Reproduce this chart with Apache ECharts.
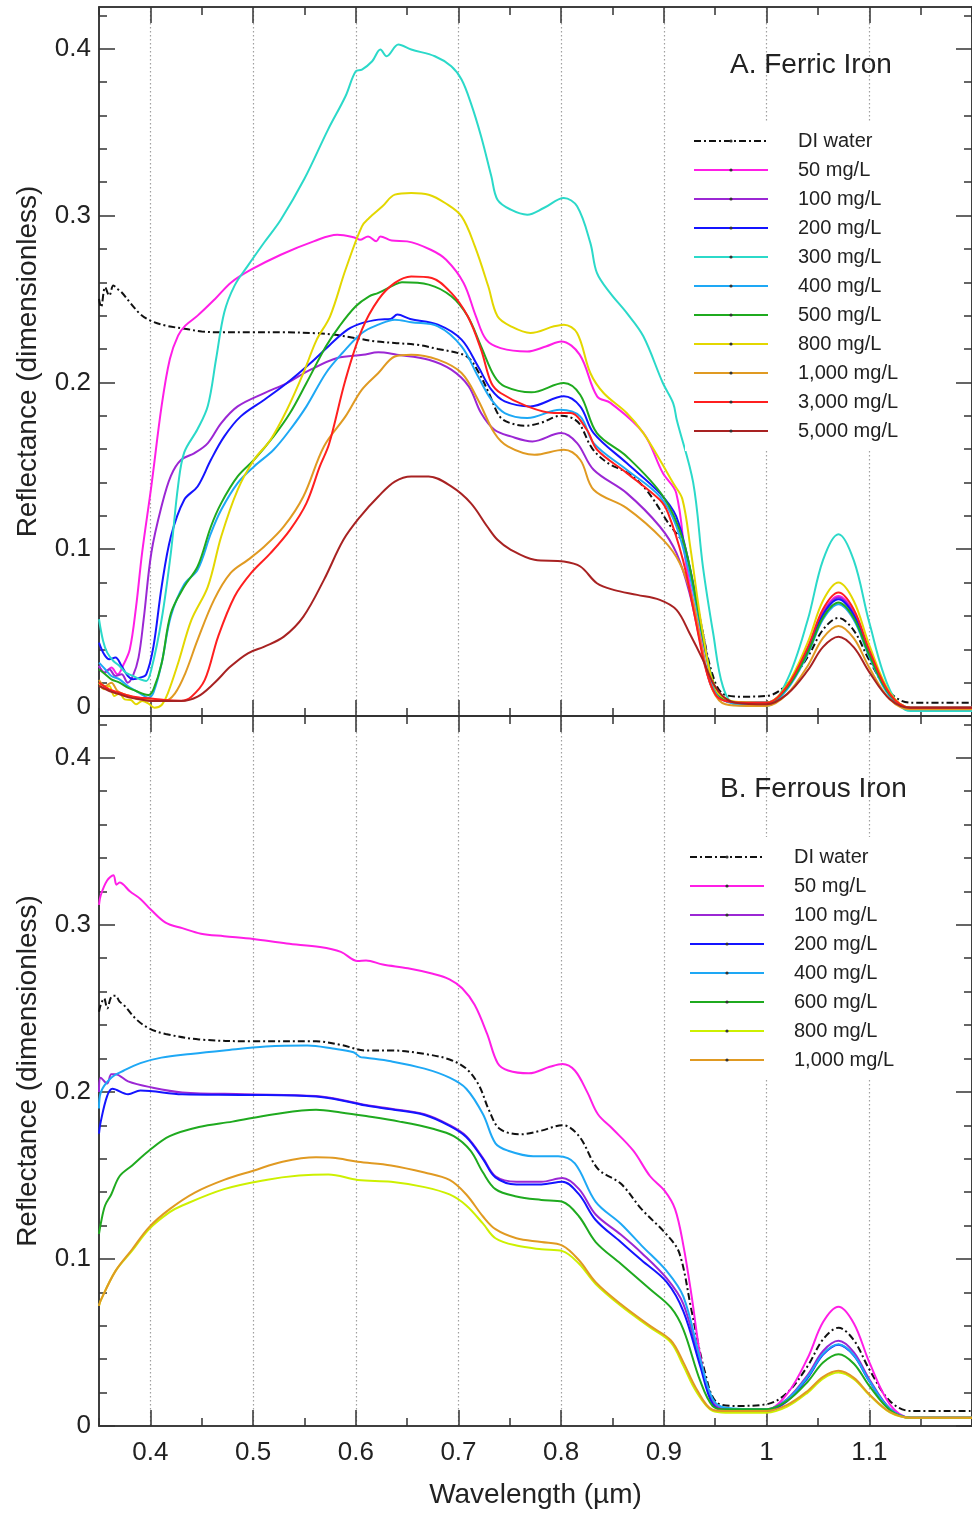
<!DOCTYPE html>
<html>
<head>
<meta charset="utf-8">
<title>Reflectance spectra of iron solutions</title>
<script src="https://cdn.jsdelivr.net/npm/echarts@6/dist/echarts.min.js"></script>
<style>
  html, body { margin: 0; padding: 0; background: #fff; }
  #chart { width: 972px; height: 1513px; }
</style>
</head>
<body>
<div id="chart"></div>
<script>
// ---- axis ticks and labels -------------------------------------------------
const wlMajorTicks = [0.4, 0.5, 0.6, 0.7, 0.8, 0.9, 1.0, 1.1, 1.2];
const wlMinorTicks = [0.35, 0.45, 0.55, 0.65, 0.75, 0.85, 0.95, 1.05, 1.15];
const wlLabels = [0.4, 0.5, 0.6, 0.7, 0.8, 0.9, 1.0, 1.1];
const reflMajorTicks = [0, 0.1, 0.2, 0.3, 0.4];
const reflMinorTicks = [0.02, 0.04, 0.06, 0.08, 0.12, 0.14, 0.16, 0.18, 0.22, 0.24,
  0.26, 0.28, 0.32, 0.34, 0.36, 0.38, 0.42];

const ferricNames = ['DI water', '50 mg/L', '100 mg/L', '200 mg/L', '300 mg/L', '400 mg/L',
  '500 mg/L', '800 mg/L', '1,000 mg/L', '3,000 mg/L', '5,000 mg/L'];
const ferrousNames = ['DI water', '50 mg/L', '100 mg/L', '200 mg/L', '400 mg/L',
  '600 mg/L', '800 mg/L', '1,000 mg/L'];

// ---- A. Ferric iron: [wavelength (µm), reflectance] ------------------------
const ferricDI = [[0.350,0.250],[0.352,0.245],[0.356,0.257],[0.360,0.252],[0.364,0.258],[0.368,0.256],
  [0.372,0.254],[0.380,0.248],[0.390,0.241],[0.400,0.237],[0.415,0.234],[0.435,0.232],[0.450,0.2305],
  [0.470,0.230],[0.500,0.230],[0.530,0.230],[0.560,0.2295],[0.580,0.2285],[0.600,0.2265],[0.620,0.2245],
  [0.640,0.2235],[0.660,0.2225],[0.680,0.2200],[0.700,0.2175],[0.710,0.2146],[0.720,0.2056],[0.730,0.193],
  [0.740,0.1796],[0.750,0.1757],[0.765,0.174],[0.780,0.1757],[0.800,0.1800],[0.810,0.1788],[0.818,0.175],
  [0.830,0.1606],[0.845,0.1518],[0.865,0.1456],[0.880,0.1376],[0.890,0.1296],[0.905,0.115],[0.9185,0.1036],
  [0.928,0.0796],[0.938,0.0496],[0.947,0.0256],[0.957,0.0136],[0.976,0.0116],[1.000,0.012],[1.020,0.019],
  [1.040,0.0354],[1.055,0.0518],[1.070,0.0588],[1.085,0.0512],[1.100,0.0334],[1.120,0.0141],[1.140,0.008],
  [1.200,0.008]];
const ferric50 = [[0.350,0.030],[0.356,0.026],[0.362,0.029],[0.368,0.025],[0.374,0.031],[0.380,0.040],
  [0.386,0.065],[0.392,0.098],[0.401,0.138],[0.411,0.186],[0.419,0.214],[0.427,0.228],[0.434,0.234],
  [0.446,0.240],[0.463,0.250],[0.479,0.260],[0.498,0.2675],[0.527,0.2765],[0.559,0.2845],[0.582,0.2885],
  [0.598,0.287],[0.604,0.2855],[0.612,0.2875],[0.620,0.2846],[0.624,0.2875],[0.635,0.285],[0.650,0.2845],
  [0.673,0.2795],[0.688,0.2735],[0.705,0.2596],[0.717,0.2396],[0.727,0.2256],[0.741,0.2205],[0.767,0.2185],
  [0.785,0.2215],[0.800,0.2245],[0.818,0.2166],[0.835,0.1916],[0.848,0.1877],[0.880,0.1697],[0.899,0.1456],
  [0.912,0.1337],[0.922,0.0896],[0.935,0.0496],[0.945,0.0196],[0.955,0.0106],[0.970,0.008],[1.000,0.008],
  [1.020,0.0176],[1.040,0.040],[1.055,0.0624],[1.070,0.072],[1.085,0.062],[1.100,0.0385],[1.120,0.013],
  [1.140,0.005],[1.200,0.005]];
const ferric100 = [[0.350,0.030],[0.355,0.026],[0.360,0.028],[0.366,0.024],[0.372,0.025],[0.378,0.020],
  [0.383,0.024],[0.3885,0.035],[0.3935,0.058],[0.401,0.098],[0.411,0.126],[0.420,0.144],[0.430,0.1536],
  [0.443,0.1576],[0.456,0.1636],[0.469,0.1756],[0.485,0.1856],[0.511,0.1936],[0.533,0.1996],[0.556,0.2076],
  [0.582,0.2146],[0.607,0.2165],[0.622,0.218],[0.640,0.2166],[0.671,0.2136],[0.693,0.2076],[0.710,0.1976],
  [0.722,0.1816],[0.735,0.1716],[0.751,0.1676],[0.772,0.1646],[0.800,0.1696],[0.8155,0.1636],[0.8316,0.1476],
  [0.8638,0.1336],[0.896,0.1136],[0.9123,0.0976],[0.925,0.0736],[0.935,0.0456],[0.945,0.0196],[0.955,0.0106],
  [0.970,0.008],[1.000,0.008],[1.020,0.0175],[1.040,0.0395],[1.055,0.0616],[1.070,0.071],[1.085,0.0611],
  [1.100,0.038],[1.120,0.0129],[1.140,0.005],[1.200,0.005]];
const ferric200 = [[0.350,0.044],[0.355,0.037],[0.360,0.034],[0.366,0.035],[0.372,0.030],[0.378,0.024],
  [0.383,0.022],[0.390,0.023],[0.396,0.025],[0.403,0.0416],[0.411,0.0776],[0.420,0.1076],[0.433,0.1296],
  [0.446,0.1376],[0.459,0.1536],[0.472,0.1676],[0.488,0.1796],[0.511,0.1896],[0.533,0.1996],[0.556,0.2116],
  [0.575,0.2226],[0.592,0.2316],[0.606,0.2355],[0.622,0.2376],[0.634,0.2380],[0.6405,0.2406],[0.653,0.238],
  [0.680,0.2346],[0.703,0.2256],[0.719,0.2096],[0.732,0.1956],[0.745,0.1886],[0.770,0.1856],[0.8026,0.1916],
  [0.8185,0.1856],[0.8316,0.1696],[0.8638,0.1516],[0.896,0.1336],[0.912,0.1196],[0.925,0.0896],[0.938,0.0496],
  [0.949,0.0176],[0.960,0.010],[0.980,0.008],[1.000,0.008],[1.020,0.0173],[1.040,0.039],[1.055,0.0607],
  [1.070,0.070],[1.085,0.0603],[1.100,0.0375],[1.120,0.0128],[1.140,0.005],[1.200,0.005]];
const ferric300 = [[0.350,0.058],[0.354,0.045],[0.358,0.038],[0.364,0.033],[0.370,0.030],[0.376,0.026],
  [0.383,0.024],[0.390,0.022],[0.396,0.021],[0.401,0.028],[0.411,0.058],[0.420,0.098],[0.427,0.138],
  [0.433,0.158],[0.446,0.172],[0.456,0.186],[0.464,0.214],[0.472,0.242],[0.482,0.258],[0.495,0.270],
  [0.511,0.284],[0.527,0.2975],[0.550,0.322],[0.573,0.3515],[0.590,0.3715],[0.600,0.3865],[0.606,0.3875],
  [0.616,0.3925],[0.624,0.3995],[0.630,0.3955],[0.6415,0.4025],[0.654,0.3995],[0.677,0.3955],[0.693,0.3895],
  [0.703,0.3815],[0.712,0.3675],[0.722,0.3475],[0.732,0.3235],[0.738,0.3095],[0.751,0.3035],[0.767,0.3005],
  [0.783,0.3045],[0.8026,0.3105],[0.8155,0.3055],[0.8284,0.2836],[0.8348,0.2656],[0.8476,0.2536],
  [0.8638,0.2416],[0.880,0.2276],[0.899,0.1996],[0.909,0.1876],[0.9125,0.1776],[0.9285,0.140],[0.938,0.0896],
  [0.948,0.0496],[0.9575,0.0176],[0.970,0.0066],[1.000,0.006],[1.020,0.0215],[1.040,0.0575],[1.055,0.0936],
  [1.070,0.109],[1.085,0.0931],[1.100,0.056],[1.120,0.0157],[1.140,0.003],[1.200,0.003]];
const ferric400 = [[0.350,0.032],[0.356,0.028],[0.362,0.024],[0.370,0.022],[0.378,0.018],[0.386,0.015],
  [0.394,0.012],[0.398,0.011],[0.403,0.014],[0.411,0.0316],[0.420,0.060],[0.433,0.079],[0.446,0.0876],
  [0.459,0.1096],[0.469,0.1236],[0.485,0.1396],[0.501,0.1496],[0.520,0.1596],[0.536,0.1716],[0.552,0.1856],
  [0.571,0.2056],[0.587,0.2176],[0.606,0.2296],[0.622,0.2346],[0.638,0.2376],[0.654,0.236],[0.680,0.2336],
  [0.703,0.2216],[0.719,0.2036],[0.732,0.1896],[0.745,0.1816],[0.767,0.1786],[0.799,0.1836],[0.8185,0.1796],
  [0.8316,0.1636],[0.8638,0.1476],[0.896,0.1316],[0.912,0.114],[0.925,0.085],[0.938,0.046],[0.949,0.016],
  [0.960,0.009],[0.980,0.007],[1.000,0.007],[1.020,0.016],[1.040,0.037],[1.055,0.058],[1.070,0.067],
  [1.085,0.0576],[1.100,0.0355],[1.120,0.0116],[1.140,0.004],[1.200,0.004]];
const ferric500 = [[0.350,0.028],[0.356,0.025],[0.362,0.022],[0.370,0.020],[0.378,0.017],[0.386,0.015],
  [0.394,0.013],[0.398,0.0126],[0.403,0.016],[0.411,0.0316],[0.420,0.0616],[0.433,0.0776],[0.446,0.0896],
  [0.459,0.1136],[0.469,0.1276],[0.485,0.1436],[0.501,0.1536],[0.520,0.1676],[0.536,0.1816],[0.552,0.1996],
  [0.571,0.2216],[0.584,0.2336],[0.600,0.2456],[0.613,0.2516],[0.622,0.2536],[0.638,0.2586],[0.645,0.260],
  [0.671,0.2586],[0.693,0.2516],[0.709,0.2396],[0.722,0.2216],[0.735,0.2036],[0.745,0.1976],[0.771,0.194],
  [0.8026,0.1996],[0.8185,0.1926],[0.8348,0.1696],[0.8638,0.1556],[0.8993,0.1316],[0.9186,0.1056],
  [0.9314,0.0696],[0.941,0.0376],[0.951,0.0156],[0.962,0.009],[0.980,0.008],[1.000,0.008],[1.020,0.017],
  [1.040,0.038],[1.055,0.059],[1.070,0.068],[1.085,0.0586],[1.100,0.0365],[1.120,0.0126],[1.140,0.005],
  [1.200,0.005]];
const ferric800 = [[0.350,0.020],[0.355,0.016],[0.360,0.018],[0.365,0.012],[0.370,0.0136],[0.375,0.010],
  [0.381,0.0096],[0.386,0.007],[0.392,0.009],[0.398,0.0076],[0.404,0.005],[0.411,0.0066],[0.417,0.0136],
  [0.427,0.0316],[0.440,0.0576],[0.456,0.0776],[0.469,0.1076],[0.485,0.1356],[0.501,0.1536],[0.517,0.1656],
  [0.533,0.1836],[0.549,0.2056],[0.562,0.2256],[0.575,0.2396],[0.590,0.2675],[0.606,0.2935],[0.613,0.2985],
  [0.626,0.3055],[0.638,0.3125],[0.654,0.3135],[0.671,0.3125],[0.687,0.3075],[0.703,0.2995],[0.716,0.2815],
  [0.729,0.2576],[0.738,0.2396],[0.751,0.2336],[0.770,0.2296],[0.793,0.2336],[0.8026,0.2346],[0.8155,0.2296],
  [0.8284,0.2056],[0.8413,0.1936],[0.8638,0.1816],[0.880,0.1696],[0.896,0.1536],[0.909,0.1396],[0.918,0.130],
  [0.926,0.100],[0.938,0.0496],[0.951,0.0156],[0.970,0.0086],[1.000,0.008],[1.020,0.0188],[1.040,0.044],
  [1.055,0.0692],[1.070,0.080],[1.085,0.0688],[1.100,0.0425],[1.120,0.014],[1.140,0.005],[1.200,0.005]];
const ferric1000 = [[0.350,0.0216],[0.356,0.018],[0.362,0.020],[0.368,0.015],[0.375,0.013],[0.382,0.0116],
  [0.388,0.010],[0.398,0.0096],[0.414,0.009],[0.424,0.0136],[0.434,0.0256],[0.446,0.0456],[0.462,0.0696],
  [0.478,0.0856],[0.495,0.0936],[0.511,0.1016],[0.530,0.1136],[0.549,0.1316],[0.569,0.1616],[0.590,0.1796],
  [0.606,0.1956],[0.622,0.2056],[0.638,0.2155],[0.654,0.2166],[0.680,0.2136],[0.703,0.2056],[0.719,0.1896],
  [0.735,0.1696],[0.748,0.1616],[0.774,0.1566],[0.8026,0.1596],[0.8185,0.1536],[0.8316,0.1356],[0.8638,0.1246],
  [0.8993,0.1056],[0.9155,0.0916],[0.928,0.0696],[0.938,0.0376],[0.9475,0.0156],[0.960,0.007],[0.980,0.006],
  [1.000,0.006],[1.020,0.0132],[1.040,0.030],[1.055,0.0468],[1.070,0.054],[1.085,0.0465],[1.100,0.029],
  [1.120,0.010],[1.140,0.004],[1.200,0.004]];
const ferric3000 = [[0.350,0.020],[0.360,0.016],[0.370,0.014],[0.380,0.012],[0.390,0.011],[0.398,0.0106],
  [0.414,0.0096],[0.430,0.0092],[0.440,0.0116],[0.453,0.0216],[0.466,0.0476],[0.482,0.0716],[0.498,0.0856],
  [0.517,0.0976],[0.536,0.1116],[0.552,0.1276],[0.565,0.1496],[0.574,0.163],[0.590,0.2016],[0.606,0.2316],
  [0.622,0.2496],[0.638,0.2596],[0.654,0.2635],[0.674,0.2626],[0.693,0.2536],[0.709,0.2396],[0.722,0.2196],
  [0.732,0.1996],[0.741,0.1936],[0.767,0.1856],[0.793,0.1816],[0.809,0.1816],[0.825,0.1716],[0.835,0.1596],
  [0.864,0.1456],[0.896,0.1296],[0.904,0.1217],[0.9185,0.0936],[0.930,0.060],[0.940,0.030],[0.950,0.013],
  [0.960,0.009],[0.980,0.008],[1.000,0.008],[1.020,0.0179],[1.040,0.041],[1.055,0.0641],[1.070,0.074],
  [1.085,0.0637],[1.100,0.0395],[1.120,0.0133],[1.140,0.005],[1.200,0.005]];
const ferric5000 = [[0.350,0.018],[0.360,0.015],[0.370,0.013],[0.380,0.011],[0.390,0.010],[0.400,0.009],
  [0.430,0.009],[0.446,0.0116],[0.462,0.0196],[0.478,0.0296],[0.495,0.0376],[0.511,0.0416],[0.530,0.0476],
  [0.549,0.0596],[0.569,0.0816],[0.588,0.1056],[0.605,0.120],[0.622,0.1316],[0.638,0.1405],[0.654,0.1436],
  [0.671,0.1436],[0.693,0.1376],[0.712,0.1276],[0.728,0.1136],[0.738,0.1056],[0.751,0.0996],[0.774,0.0936],
  [0.8026,0.0926],[0.8187,0.0896],[0.8348,0.0796],[0.851,0.0756],[0.874,0.0726],[0.896,0.0696],[0.9123,0.0636],
  [0.925,0.0496],[0.938,0.0336],[0.948,0.0196],[0.958,0.0116],[0.970,0.008],[1.000,0.007],[1.020,0.0131],
  [1.040,0.0273],[1.055,0.0414],[1.070,0.0475],[1.085,0.0411],[1.100,0.0263],[1.120,0.0101],[1.140,0.005],
  [1.200,0.005]];

// ---- B. Ferrous iron: [wavelength (µm), reflectance] -----------------------
const ferrousDI = [[0.350,0.248],[0.3517,0.2521],[0.355,0.256],[0.358,0.250],[0.362,0.257],[0.366,0.2576],
  [0.370,0.254],[0.3742,0.252],[0.3864,0.2434],[0.3986,0.238],[0.4148,0.2347],[0.4473,0.2314],[0.5002,0.2303],
  [0.5613,0.2303],[0.5855,0.2281],[0.610,0.2248],[0.6344,0.2248],[0.667,0.2227],[0.6913,0.2194],[0.7076,0.2139],
  [0.7198,0.2041],[0.7299,0.1888],[0.7401,0.1779],[0.7604,0.1746],[0.7807,0.1768],[0.8012,0.1801],
  [0.8174,0.1735],[0.8358,0.1539],[0.858,0.1451],[0.8783,0.1298],[0.9028,0.1145],[0.915,0.1036],
  [0.9271,0.0686],[0.9394,0.0337],[0.9516,0.014],[0.970,0.012],[1.000,0.013],[1.020,0.0199],[1.040,0.0359],
  [1.055,0.0519],[1.070,0.0588],[1.085,0.0513],[1.100,0.0339],[1.120,0.015],[1.140,0.009],[1.200,0.009]];
const ferrous50 = [[0.350,0.312],[0.3517,0.3177],[0.3579,0.3265],[0.364,0.3297],[0.367,0.324],[0.370,0.3253],
  [0.3803,0.3199],[0.3903,0.3155],[0.4006,0.309],[0.4148,0.3013],[0.4311,0.298],[0.4493,0.2947],[0.4718,0.2932],
  [0.5002,0.2915],[0.5327,0.2888],[0.5652,0.2867],[0.5855,0.2838],[0.6019,0.2783],[0.610,0.2787],[0.6263,0.2762],
  [0.6507,0.274],[0.6751,0.2707],[0.6913,0.2674],[0.7036,0.262],[0.7157,0.2521],[0.7279,0.2347],[0.7382,0.2172],
  [0.7483,0.2128],[0.7686,0.2111],[0.7889,0.215],[0.8012,0.2167],[0.8133,0.2128],[0.8255,0.1997],[0.8358,0.1866],
  [0.850,0.1779],[0.8702,0.1648],[0.8866,0.1495],[0.9008,0.1407],[0.9109,0.1298],[0.919,0.108],[0.9271,0.0774],
  [0.9353,0.0424],[0.9435,0.0206],[0.9516,0.0119],[0.970,0.010],[1.000,0.010],[1.020,0.0192],[1.040,0.0407],
  [1.055,0.0622],[1.070,0.0714],[1.085,0.0614],[1.100,0.0382],[1.120,0.013],[1.140,0.005],[1.200,0.005]];
const ferrous100 = [[0.350,0.200],[0.3517,0.2085],[0.3579,0.205],[0.362,0.2106],[0.366,0.2106],[0.3783,0.2063],
  [0.3986,0.203],[0.4311,0.1997],[0.4921,0.1986],[0.5613,0.1975],[0.5937,0.1943],[0.610,0.1921],[0.6344,0.1899],
  [0.667,0.1866],[0.6913,0.1801],[0.7076,0.1735],[0.7239,0.1604],[0.736,0.1495],[0.7564,0.1462],[0.7807,0.1462],
  [0.8012,0.1484],[0.8174,0.1418],[0.8336,0.1266],[0.858,0.1146],[0.8783,0.1036],[0.9028,0.0883],[0.919,0.073],
  [0.9353,0.0381],[0.9475,0.014],[0.960,0.010],[1.000,0.010],[1.020,0.0162],[1.040,0.0305],[1.055,0.0449],
  [1.070,0.051],[1.085,0.0441],[1.100,0.028],[1.120,0.0105],[1.140,0.005],[1.200,0.005]];
const ferrous200 = [[0.350,0.175],[0.3517,0.1822],[0.3579,0.1975],[0.363,0.2019],[0.3783,0.1986],
  [0.3903,0.2008],[0.4311,0.1986],[0.4921,0.1982],[0.5613,0.1972],[0.5937,0.194],[0.610,0.1918],[0.6344,0.1896],
  [0.667,0.1862],[0.6913,0.1797],[0.7076,0.173],[0.7239,0.1598],[0.736,0.1488],[0.7564,0.1446],[0.7807,0.1446],
  [0.8012,0.1462],[0.8174,0.1386],[0.8336,0.1233],[0.858,0.1101],[0.8783,0.0992],[0.9028,0.0861],[0.919,0.0686],
  [0.9353,0.036],[0.9475,0.013],[0.960,0.009],[1.000,0.009],[1.020,0.0149],[1.040,0.0288],[1.055,0.0427],
  [1.070,0.0486],[1.085,0.0421],[1.100,0.0268],[1.120,0.0102],[1.140,0.005],[1.200,0.005]];
const ferrous400 = [[0.350,0.190],[0.3517,0.1997],[0.3619,0.2085],[0.3742,0.2128],[0.3903,0.2172],
  [0.4107,0.2205],[0.4392,0.2227],[0.4718,0.2248],[0.5125,0.2271],[0.553,0.2277],[0.5775,0.2259],
  [0.5978,0.2237],[0.604,0.221],[0.610,0.2205],[0.6344,0.2183],[0.667,0.2139],[0.6913,0.2085],[0.7076,0.2019],
  [0.7239,0.1866],[0.736,0.1692],[0.7483,0.1648],[0.7727,0.1615],[0.7971,0.1615],[0.8133,0.1572],[0.8336,0.1342],
  [0.858,0.1211],[0.8783,0.108],[0.9028,0.0927],[0.919,0.0774],[0.9353,0.0403],[0.9475,0.0162],[0.960,0.011],
  [1.000,0.010],[1.020,0.0159],[1.040,0.0295],[1.055,0.0432],[1.070,0.049],[1.085,0.0424],[1.100,0.027],
  [1.120,0.0103],[1.140,0.005],[1.200,0.005]];
const ferrous600 = [[0.350,0.115],[0.3517,0.1211],[0.3559,0.132],[0.3619,0.1386],[0.370,0.1495],[0.3823,0.156],
  [0.3986,0.1648],[0.4188,0.1735],[0.4473,0.179],[0.4799,0.1822],[0.5206,0.1866],[0.5613,0.1893],[0.5855,0.1877],
  [0.610,0.1855],[0.6425,0.1822],[0.6751,0.1779],[0.6954,0.1735],[0.7117,0.1648],[0.7239,0.1517],[0.736,0.1418],
  [0.7564,0.1374],[0.7807,0.1353],[0.8012,0.1342],[0.8174,0.1254],[0.8336,0.1101],[0.858,0.0971],[0.8866,0.0818],
  [0.9069,0.0708],[0.919,0.0577],[0.9353,0.0271],[0.9475,0.0119],[0.960,0.010],[1.000,0.010],[1.020,0.015],
  [1.040,0.0265],[1.055,0.038],[1.070,0.043],[1.085,0.0373],[1.100,0.024],[1.120,0.0096],[1.140,0.005],
  [1.200,0.005]];
const ferrous800 = [[0.350,0.072],[0.3517,0.0752],[0.366,0.0927],[0.3823,0.105],[0.3986,0.1178],[0.4188,0.128],
  [0.4311,0.132],[0.4718,0.1418],[0.5125,0.1473],[0.5449,0.1499],[0.5734,0.1506],[0.6019,0.1473],[0.6344,0.1462],
  [0.667,0.143],[0.6913,0.1386],[0.7076,0.132],[0.7239,0.1211],[0.736,0.1124],[0.7564,0.108],[0.7807,0.1058],
  [0.8012,0.1047],[0.8174,0.0971],[0.8336,0.085],[0.858,0.072],[0.8866,0.059],[0.9069,0.050],[0.919,0.036],
  [0.9312,0.021],[0.9475,0.009],[0.960,0.008],[1.000,0.008],[1.020,0.0116],[1.040,0.020],[1.055,0.0284],
  [1.070,0.032],[1.085,0.028],[1.100,0.0185],[1.120,0.0082],[1.140,0.005],[1.200,0.005]];
const ferrous1000 = [[0.350,0.072],[0.3517,0.0752],[0.366,0.0927],[0.3823,0.1058],[0.3986,0.1189],
  [0.4188,0.1298],[0.4433,0.1397],[0.4718,0.1473],[0.5002,0.1528],[0.5287,0.1582],[0.5613,0.1608],
  [0.5775,0.1605],[0.6019,0.1582],[0.6344,0.156],[0.667,0.1517],[0.6913,0.1473],[0.7076,0.1386],[0.7239,0.1254],
  [0.736,0.1178],[0.7564,0.1124],[0.7807,0.1101],[0.8012,0.108],[0.8174,0.0992],[0.8336,0.0861],[0.858,0.073],
  [0.8866,0.0599],[0.9069,0.0512],[0.919,0.0381],[0.9312,0.0228],[0.9475,0.0097],[0.960,0.009],[1.000,0.009],
  [1.020,0.0126],[1.040,0.021],[1.055,0.0294],[1.070,0.033],[1.085,0.0288],[1.100,0.019],[1.120,0.0084],
  [1.140,0.005],[1.200,0.005]];

// ---- styling ---------------------------------------------------------------
const FONT = "'Liberation Sans', Arial, Helvetica, sans-serif";
const INK = '#222';
const AXIS = '#333';
const DASH_DOT = [7, 3, 2, 3];
const colors = {
  di: '#111111', c50: '#ff1ee6', c100: '#9b27d4', c200: '#1414ff', c300: '#2bd9c9',
  c400: '#1ea8f5', c500: '#1faa1f', c600: '#1faa1f', c800a: '#e3d700', c800b: '#cdf000',
  c1000: '#e09a22', c3000: '#ff1f1f', c5000: '#a82222'
};

function series(name, data, color, panel, dashed) {
  return {
    type: 'line', name: name, data: data,
    xAxisIndex: panel * 4, yAxisIndex: panel * 4,
    symbol: 'circle', showSymbol: false, smooth: 0.35,
    lineStyle: { color: color, width: 2, type: dashed ? DASH_DOT : 'solid' },
    itemStyle: { color: color },
    silent: true
  };
}

// x axes: for each panel a bottom and a top axis, each split into major/minor tick sets
function xAxis(panel, pos, ticks, len, extra) {
  return Object.assign({
    type: 'value', gridIndex: panel, position: pos, min: 0.35, max: 1.2,
    axisLine: { show: true, onZero: false, lineStyle: { color: AXIS, width: 1.5 } },
    axisTick: { show: true, inside: true, length: len, customValues: ticks,
      lineStyle: { color: AXIS, width: 1.5 } },
    axisLabel: { show: false },
    splitLine: { show: false }
  }, extra || {});
}
function yAxis(panel, pos, ticks, len, extra) {
  return Object.assign({
    type: 'value', gridIndex: panel, position: pos, min: 0, max: 0.425,
    axisLine: { show: true, onZero: false, lineStyle: { color: AXIS, width: 1.5 } },
    axisTick: { show: true, inside: true, length: len, customValues: ticks,
      lineStyle: { color: AXIS, width: 1.5 } },
    axisLabel: { show: false },
    splitLine: { show: false }
  }, extra || {});
}

// dotted verticals at every tenth of a micron
const gridLines = {
  show: true,
  lineStyle: { color: '#a0a0a0', type: [1.5, 2.5], width: 1.2 }
};
const yName = {
  name: 'Reflectance (dimensionless)', nameLocation: 'middle', nameGap: 57,
  nameTextStyle: { fontFamily: FONT, fontSize: 28, color: INK }
};
function yLabels(shiftZero) {
  return {
    show: true, customValues: reflMajorTicks, margin: 8,
    fontFamily: FONT, fontSize: 26, color: INK,
    formatter: v => (shiftZero && v === 0) ? '{z|0}' : String(v),
    rich: { z: { fontFamily: FONT, fontSize: 26, color: INK, padding: [0, 0, 18, 0] } }
  };
}

const xAxes = [];
const yAxes = [];
for (let p = 0; p < 2; p++) {
  xAxes.push(xAxis(p, 'bottom', wlMajorTicks, 16, Object.assign(
    { interval: 0.05, splitLine: gridLines },
    p === 1 ? {
      name: 'Wavelength (µm)', nameLocation: 'middle', nameGap: 55,
      nameTextStyle: { fontFamily: FONT, fontSize: 28, color: INK },
      axisLabel: { show: true, customValues: wlLabels, margin: 14,
        fontFamily: FONT, fontSize: 26, color: INK, formatter: v => String(v) }
    } : {})));
  xAxes.push(xAxis(p, 'bottom', wlMinorTicks, 8));
  xAxes.push(xAxis(p, 'top', wlMajorTicks, 16));
  xAxes.push(xAxis(p, 'top', wlMinorTicks, 8));
  yAxes.push(yAxis(p, 'left', reflMajorTicks, 16, Object.assign({ axisLabel: yLabels(p === 0) }, yName)));
  yAxes.push(yAxis(p, 'left', reflMinorTicks, 8));
  yAxes.push(yAxis(p, 'right', reflMajorTicks, 16));
  yAxes.push(yAxis(p, 'right', reflMinorTicks, 8));
}

const legendBase = {
  orient: 'vertical', itemWidth: 74, itemHeight: 4, itemGap: 9,
  padding: [10, 12, 10, 8], backgroundColor: '#ffffff',
  itemStyle: { color: '#333', borderWidth: 0 },
  textStyle: { fontFamily: FONT, fontSize: 20, lineHeight: 20, color: INK, padding: [0, 0, 0, 25] },
  selectedMode: false
};

const option = {
  animation: false,
  backgroundColor: '#ffffff',
  title: [
    { text: 'A. Ferric Iron', left: 730, top: 51, padding: 0,
      textStyle: { fontFamily: FONT, fontSize: 28, fontWeight: 'normal', color: INK } },
    { text: 'B. Ferrous Iron', left: 720, top: 775, padding: 0,
      textStyle: { fontFamily: FONT, fontSize: 28, fontWeight: 'normal', color: INK } }
  ],
  grid: [
    { left: 99, top: 7, width: 879, height: 709 },
    { left: 99, top: 716, width: 879, height: 710 }
  ],
  xAxis: xAxes,
  yAxis: yAxes,
  legend: [
    Object.assign({}, legendBase, { left: 685, top: 121, data: ferricNames }),
    Object.assign({}, legendBase, { left: 681, top: 837,
      data: ferrousNames.map(n => n === '800 mg/L'
        ? { name: n, lineStyle: { color: colors.c800b } } : n) })
  ],
  series: [
    series('DI water', ferricDI, colors.di, 0, true),
    series('50 mg/L', ferric50, colors.c50, 0),
    series('100 mg/L', ferric100, colors.c100, 0),
    series('200 mg/L', ferric200, colors.c200, 0),
    series('300 mg/L', ferric300, colors.c300, 0),
    series('400 mg/L', ferric400, colors.c400, 0),
    series('500 mg/L', ferric500, colors.c500, 0),
    series('800 mg/L', ferric800, colors.c800a, 0),
    series('1,000 mg/L', ferric1000, colors.c1000, 0),
    series('3,000 mg/L', ferric3000, colors.c3000, 0),
    series('5,000 mg/L', ferric5000, colors.c5000, 0),
    series('DI water', ferrousDI, colors.di, 1, true),
    series('50 mg/L', ferrous50, colors.c50, 1),
    series('100 mg/L', ferrous100, colors.c100, 1),
    series('200 mg/L', ferrous200, colors.c200, 1),
    series('400 mg/L', ferrous400, colors.c400, 1),
    series('600 mg/L', ferrous600, colors.c600, 1),
    series('800 mg/L', ferrous800, colors.c800b, 1),
    series('1,000 mg/L', ferrous1000, colors.c1000, 1)
  ]
};

const chart = echarts.init(document.getElementById('chart'), null, { renderer: 'canvas' });
chart.setOption(option);
</script>
</body>
</html>
